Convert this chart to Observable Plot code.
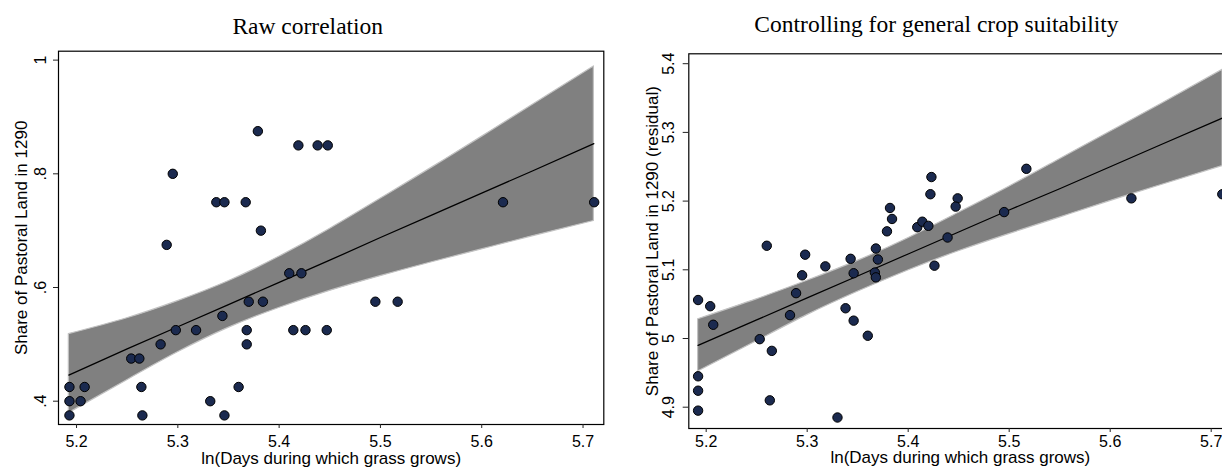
<!DOCTYPE html>
<html>
<head>
<meta charset="utf-8">
<script src="https://cdn.jsdelivr.net/npm/d3@7"></script>
<script src="https://cdn.jsdelivr.net/npm/@observablehq/plot@0.6"></script>
<style>
html, body { margin: 0; padding: 0; background: #fff; overflow: hidden; }
#wrap { position: relative; width: 1222px; height: 468px; overflow: hidden; background: #fff; }
#left { position: absolute; left: 0; top: 0; width: 612px; height: 468px; }
#right { position: absolute; left: 612px; top: 0; width: 648px; height: 468px; }
#wrap svg { max-width: none !important; display: block; }
</style>
</head>
<body>
<div id="wrap"><div id="left"></div><div id="right"></div></div>
<script>
// ---------- data ----------
const xTicks = [5.2, 5.3, 5.4, 5.5, 5.6, 5.7];
const xTickLabels = ["5.2", "5.3", "5.4", "5.5", "5.6", "5.7"];

// Left panel: raw correlation
const rawTitle = "Raw correlation";
const rawYLabel = "Share of Pastoral Land in 1290";
const rawYTicks = [0.4, 0.6, 0.8, 1];
const rawYTickLabels = [".4", ".6", ".8", "1"];
const rawX = [5.379, 5.419, 5.438, 5.448, 5.295, 5.338, 5.346, 5.367, 5.382, 5.289,
              5.410, 5.422, 5.370, 5.384, 5.344, 5.298, 5.318, 5.368, 5.414, 5.426,
              5.447, 5.368, 5.283, 5.254, 5.262, 5.193, 5.208, 5.264, 5.360, 5.193,
              5.204, 5.332, 5.193, 5.265, 5.346, 5.495, 5.517, 5.621, 5.711];
const rawY = [0.875, 0.85, 0.85, 0.85, 0.8, 0.75, 0.75, 0.75, 0.7, 0.675,
              0.625, 0.625, 0.575, 0.575, 0.55, 0.525, 0.525, 0.525, 0.525, 0.525,
              0.525, 0.5, 0.5, 0.475, 0.475, 0.425, 0.425, 0.425, 0.425, 0.4,
              0.4, 0.4, 0.375, 0.375, 0.375, 0.575, 0.575, 0.75, 0.75];
const rawBandX = [5.1924, 5.25, 5.30, 5.35, 5.40, 5.45, 5.50, 5.55, 5.60, 5.65, 5.7107];
const rawLo    = [0.379, 0.437, 0.486, 0.529, 0.564, 0.594, 0.620, 0.644, 0.667, 0.690, 0.717];
const rawHi    = [0.518, 0.546, 0.576, 0.611, 0.654, 0.703, 0.756, 0.810, 0.865, 0.921, 0.989];
const rawFit   = [0.446, 0.492, 0.531, 0.570, 0.609, 0.648, 0.688, 0.727, 0.766, 0.805, 0.853];

// Right panel: controlling for crop suitability
const resTitle = "Controlling for general crop suitability";
const resYLabel = "Share of Pastoral Land in 1290 (residual)";
const resYTicks = [4.9, 5, 5.1, 5.2, 5.3, 5.4];
const resYTickLabels = ["4.9", "5", "5.1", "5.2", "5.3", "5.4"];
const resX = [5.192, 5.204, 5.207, 5.192, 5.192, 5.192, 5.260, 5.253, 5.265, 5.263,
              5.298, 5.295, 5.289, 5.283, 5.318, 5.343, 5.346, 5.338, 5.346, 5.360,
              5.330, 5.368, 5.370, 5.367, 5.368, 5.379, 5.382, 5.384, 5.409, 5.414,
              5.420, 5.423, 5.422, 5.426, 5.517, 5.449, 5.447, 5.439, 5.495, 5.621, 5.711];
const resY = [5.056, 5.047, 5.020, 4.945, 4.924, 4.895, 5.135, 4.999, 4.982, 4.910,
              5.122, 5.092, 5.066, 5.034, 5.105, 5.116, 5.095, 5.044, 5.026, 5.004,
              4.885, 5.131, 5.115, 5.096, 5.089, 5.156, 5.190, 5.174, 5.162, 5.170,
              5.164, 5.235, 5.210, 5.106, 5.247, 5.204, 5.192, 5.147, 5.184, 5.204, 5.210];
const resBandX = [5.192, 5.25, 5.30, 5.35, 5.40, 5.45, 5.50, 5.55, 5.60, 5.65, 5.7112];
const resLo    = [4.952, 4.996, 5.034, 5.068, 5.099, 5.127, 5.152, 5.176, 5.200, 5.223, 5.251];
const resHi    = [5.028, 5.057, 5.084, 5.113, 5.146, 5.183, 5.221, 5.261, 5.301, 5.341, 5.391];
const resFit   = [4.990, 5.027, 5.059, 5.091, 5.123, 5.155, 5.187, 5.218, 5.250, 5.282, 5.321];

const xLabel = "ln(Days during which grass grows)";

// ---------- drawing ----------
const SANS = "'Liberation Sans', Arial, Helvetica, sans-serif";
const SERIF = "'Liberation Serif', 'Times New Roman', serif";

function panel(o) {
  const pts = o.px.map((x, i) => ({x, y: o.py[i]}));
  const band = o.bx.map((x, i) => ({x, lo: o.lo[i], hi: o.hi[i], fit: o.fit[i]}));
  const xFmt = new Map(xTicks.map((t, i) => [t, xTickLabels[i]]));
  const yFmt = new Map(o.yTicks.map((t, i) => [t, o.yTickLabels[i]]));
  return Plot.plot({
    width: o.width,
    height: 468,
    marginLeft: o.ml, marginRight: o.mr, marginTop: o.mt, marginBottom: o.mb,
    x: {domain: o.xDomain, axis: null},
    y: {domain: o.yDomain, axis: null},
    style: {fontFamily: SANS, fontSize: "16px", color: "black", background: "white", overflow: "visible", maxWidth: "none"},
    marks: [
      Plot.areaY(band, {x: "x", y1: "lo", y2: "hi", fill: "#808080", stroke: "#c2c2c2", strokeWidth: 1.2, curve: "natural"}),
      Plot.lineY(band, {x: "x", y: "fit", stroke: "black", strokeWidth: 1.3}),
      Plot.dot(pts, {x: "x", y: "y", r: 4.7, fill: "#1b2a4f", stroke: "black", strokeWidth: 1}),
      Plot.frame({stroke: "black", strokeWidth: 1.2}),
      Plot.axisX({ticks: xTicks, tickFormat: d => xFmt.get(d), tickSize: 4, tickPadding: o.xPad, fontSize: 16, label: null, stroke: "#222"}),
      Plot.axisY({ticks: o.yTicks, tickFormat: d => yFmt.get(d), tickRotate: -90, tickSize: o.yTick, tickPadding: o.yPad, fontSize: 16, label: null, stroke: "#222"}),
      Plot.text([o.title], {text: d => d, frameAnchor: "top", dx: o.tdx, dy: o.tdy, textAnchor: "middle", lineAnchor: "bottom", fontFamily: SERIF, fontSize: 23.5, fill: "black"}),
      Plot.text([xLabel], {text: d => d, frameAnchor: "bottom", dy: o.xldy, textAnchor: "middle", lineAnchor: "bottom", fontSize: 17, fill: "black"}),
      Plot.text([o.yLabel], {text: d => d, frameAnchor: "left", dx: o.yldx, rotate: -90, textAnchor: "middle", lineAnchor: "middle", fontSize: 17, fill: "black"})
    ]
  });
}

document.getElementById("left").append(panel({
  width: 612, ml: 58, mr: 8.7, mt: 50.7, mb: 44,
  xDomain: [5.1822, 5.7205], yDomain: [0.359, 1.0157],
  px: rawX, py: rawY, bx: rawBandX, lo: rawLo, hi: rawHi, fit: rawFit,
  yTicks: rawYTicks, yTickLabels: rawYTickLabels,
  xPad: 7, yTick: 5, yPad: 7.4,
  title: rawTitle, tdx: -23.4, tdy: -17.4,
  xldy: 39, yLabel: rawYLabel, yldx: -36.6
}));

document.getElementById("right").append(panel({
  width: 648, ml: 76.3, mr: 28.6, mt: 53.3, mb: 40,
  xDomain: [5.1828, 5.7205], yDomain: [4.869, 5.4144],
  px: resX, py: resY, bx: resBandX, lo: resLo, hi: resHi, fit: resFit,
  yTicks: resYTicks, yTickLabels: resYTickLabels,
  xPad: 3, yTick: 5.6, yPad: 9.4,
  title: resTitle, tdx: -23.9, tdy: -21.6,
  xldy: 34.5, yLabel: resYLabel, yldx: -36.3
}));
</script>
</body>
</html>
